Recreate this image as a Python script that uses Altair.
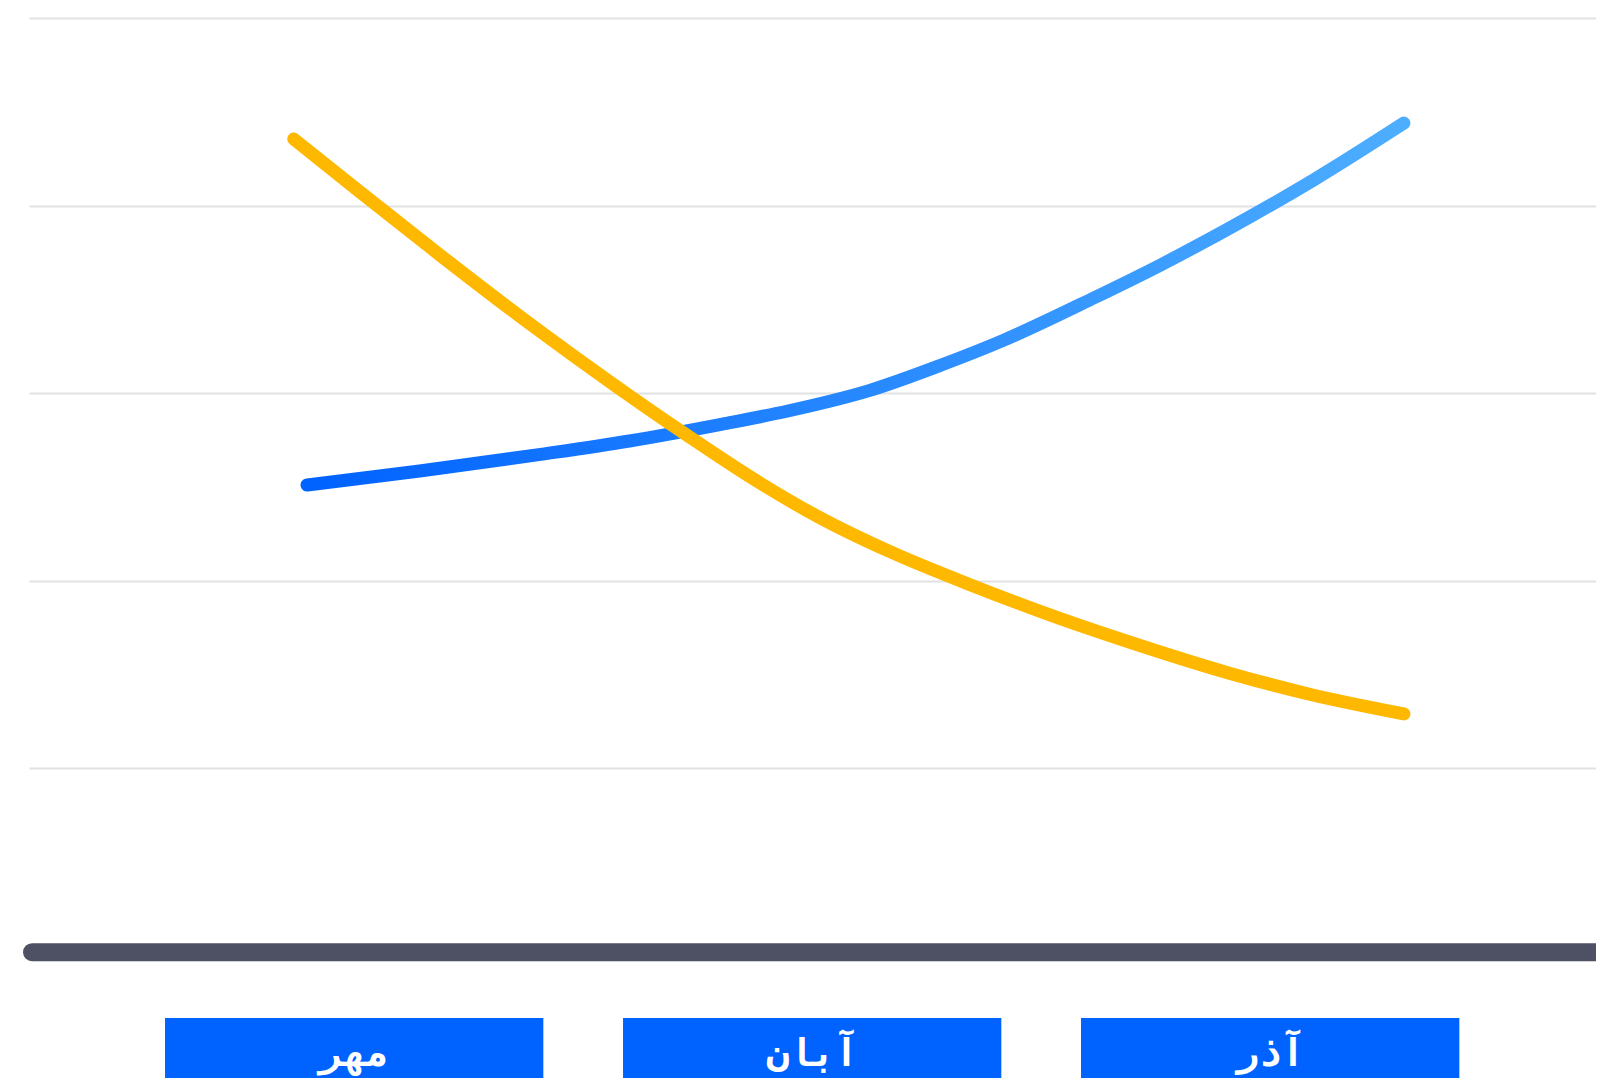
import altair as alt
import pandas as pd

# ---- data ----
months = ["مهر", "آبان", "آذر"]
month_pos = [1, 2, 3]

blue_x = [0.897, 1.143, 1.411, 1.601, 1.804, 1.947, 2.126, 2.282, 2.416, 2.617, 2.762, 2.952, 3.097, 3.292]
blue_y = [50.2, 51.7, 53.5, 54.9, 56.7, 58.1, 60.3, 63.0, 65.6, 70.2, 73.7, 78.7, 82.8, 88.8]

yellow_x = [0.868, 1.009, 1.188, 1.389, 1.567, 1.724, 1.880, 2.014, 2.170, 2.349, 2.528, 2.684, 2.907, 3.086, 3.292]
yellow_y = [87.1, 81.6, 74.7, 67.2, 60.9, 55.6, 50.6, 46.8, 43.1, 39.5, 36.2, 33.6, 30.2, 27.9, 25.8]

grid_values = [20, 40, 60, 80, 100]

x_domain = [0.29, 3.7114]
y_domain = [-13.02, 100]
label_band_top = -6.62
label_baseline = -11.74
bar_half = 0.413
baseline_start = 0.2966
baseline_level = 0.4

# ---- tables ----
blue_df = pd.DataFrame({"x": blue_x, "y": blue_y})
yellow_df = pd.DataFrame({"x": yellow_x, "y": yellow_y})
cat_df = pd.DataFrame({
    "month": months,
    "pos": month_pos,
    "x0": [p - bar_half for p in month_pos],
    "x1": [p + bar_half for p in month_pos],
    "ytop": [label_band_top] * 3,
    "ybot": [y_domain[0]] * 3,
    "ytext": [label_baseline] * 3,
})
base_df = pd.DataFrame({"x": [baseline_start], "x2": [x_domain[1]], "y": [baseline_level]})

xs = alt.Scale(domain=x_domain, nice=False, zero=False)
ys = alt.Scale(domain=y_domain, nice=False, zero=False)

grid = alt.Chart(blue_df).mark_point(opacity=0).encode(
    x=alt.X("x:Q", scale=xs, axis=None),
    y=alt.Y("y:Q", scale=ys, axis=alt.Axis(values=grid_values, grid=True, gridColor="#E2E2E2",
                                           gridWidth=2, labels=False, ticks=False, domain=False, title=None)),
)

baseline = alt.Chart(base_df).mark_rule(color="#4E5163", strokeWidth=18, strokeCap="round").encode(
    x=alt.X("x:Q", scale=xs), x2="x2:Q", y=alt.Y("y:Q", scale=ys)
)

blue_grad = alt.LinearGradient(
    gradient="linear",
    stops=[alt.GradientStop(offset=0, color="#0062FF"), alt.GradientStop(offset=1, color="#4DAEFF")],
    x1=0, x2=1, y1=0, y2=0,
)

blue_line = alt.Chart(blue_df).mark_line(stroke=blue_grad, strokeWidth=13, strokeCap="round",
                                         strokeJoin="round", interpolate="monotone").encode(
    x=alt.X("x:Q", scale=xs), y=alt.Y("y:Q", scale=ys)
)

yellow_line = alt.Chart(yellow_df).mark_line(color="#FFB800", strokeWidth=13, strokeCap="round",
                                             strokeJoin="round", interpolate="monotone").encode(
    x=alt.X("x:Q", scale=xs), y=alt.Y("y:Q", scale=ys)
)

rects = alt.Chart(cat_df).mark_rect(color="#0062FF").encode(
    x=alt.X("x0:Q", scale=xs), x2="x1:Q", y=alt.Y("ytop:Q", scale=ys), y2="ybot:Q"
)

labels = alt.Chart(cat_df).mark_text(color="white", font="DejaVu Sans Mono", fontWeight="bold",
                                     fontSize=38, align="center", baseline="alphabetic").encode(
    x=alt.X("pos:Q", scale=xs), y=alt.Y("ytext:Q", scale=ys), text="month:N"
)

chart = alt.layer(grid, baseline, blue_line, yellow_line, rects, labels).properties(
    width=1567, height=1060,
    padding={"left": 21, "top": 10, "right": 0, "bottom": 0},
    autosize=alt.AutoSizeParams(type="none"),
    background="white",
).configure_view(stroke=None)

chart.save("out.html", embed_options={"renderer": "svg", "actions": False})
